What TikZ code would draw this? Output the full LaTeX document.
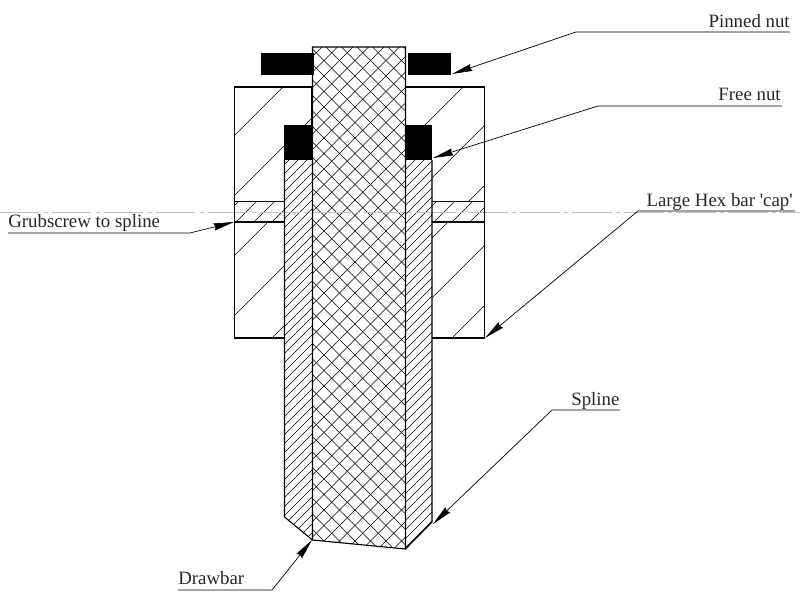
\documentclass[tikz,border=0pt]{standalone}
\usepackage{fontspec}
\setmainfont{Liberation Serif}
\usetikzlibrary{arrows.meta}

\tikzstyle{line} = [line width=0.8pt]
\tikzstyle{hatch} = [line width=0.45pt]
\tikzstyle{arw} = [-{Stealth[length=14.5pt,width=5pt,inset=1pt]}, line width=0.5pt]
\tikzstyle{lbl} = [inner sep=0pt, font=\fontsize{13.4}{13.4}\selectfont, text=black!85]
\tikzstyle{axis} = [line width=0.5pt, black!25, dash pattern=on 28pt off 3pt on 3pt off 3pt]

\begin{document}
\begin{tikzpicture}[x=0.025cm,y=-0.025cm]
\useasboundingbox (0,0) rectangle (800,600);

% hex bar hatch
\begin{scope}
\clip (234.5,87) -- (312,87) -- (312,125) -- (284.5,125) -- (284.5,201.5) -- (234.5,201.5) -- cycle
 (234.5,222) rectangle (284.5,338)
 (405,87) -- (484.5,87) -- (484.5,201.5) -- (432,201.5) -- (432,125) -- (405,125) -- cycle
 (432,222) rectangle (484.5,338);
\foreach \s in {370,430,...,850}
 \draw [hatch] (\s-80,80) -- (\s-400,400);
\end{scope}

% grubscrew hatch
\begin{scope}
\clip (234.5,201.5) rectangle (284.5,222) (432,201.5) rectangle (484.5,222);
\foreach \s in {440,458,...,720}
 \draw [hatch] (\s-190,190) -- (\s-230,230);
\end{scope}

% spline hatch
\begin{scope}
\clip (284.5,160) -- (312,160) -- (312,540) -- (284.5,517) -- cycle
 (405,160) -- (432,160) -- (432,522) -- (405,549) -- cycle;
\foreach \s in {440,449,...,1000}
 \draw [hatch] (\s-150,150) -- (\s-550,550);
\end{scope}

% drawbar cross hatch
\begin{scope}
\clip (312.5,47) -- (405.5,47) -- (405.5,549) -- (312.5,540) -- cycle;
\foreach \s in {338,353.5,...,980}
 \draw [hatch] (\s-40,40) -- (\s-560,560);
\foreach \s in {-248,-232.5,...,370}
 \draw [hatch] (\s+40,40) -- (\s+560,560);
\end{scope}

% centre line
\draw [axis] (0,212) -- (800,212);

% outlines
\draw [line] (312,125) -- (312,87) -- (234.5,87) -- (234.5,338) -- (284.5,338);
\draw [line] (405.5,87) -- (484.5,87) -- (484.5,338) -- (432,338);
\draw [line] (234.5,201.5) -- (284.5,201.5);
\draw [line] (234.5,222) -- (284.5,222);
\draw [line] (432,201.5) -- (484.5,201.5);
\draw [line] (432,222) -- (484.5,222);
\draw [line] (312.5,47) -- (405.5,47) -- (405.5,549) -- (312.5,540) -- cycle;
\draw [line] (312.5,540) -- (284.5,517) -- (284.5,160);
\draw [line] (405.5,549) -- (432,522) -- (432,160);

% nuts
\fill (261,53) rectangle (313.5,75);
\fill (408,53) rectangle (451,75);
\fill (284,125) rectangle (312,160);
\fill (405,125) rectangle (432,160);

% labels
\node [lbl,anchor=base east] (pinned) at (790,27) {Pinned nut};
\node [lbl,anchor=base east] (free) at (781,100) {Free nut};
\node [lbl,anchor=base east] (hex) at (793,206) {Large Hex bar \textquotesingle cap\textquotesingle};
\node [lbl,anchor=base west] (grub) at (8,227) {Grubscrew to spline};
\node [lbl,anchor=base west] (spline) at (571,405) {Spline};
\node [lbl,anchor=base west] (drawbar) at (178,584) {Drawbar};

% leaders
\coordinate (pinnedEnd) at (790,32);
\coordinate (pinnedKnee) at (576,32);
\coordinate (pinnedTip) at (452,74);
\coordinate (freeEnd) at (782,106);
\coordinate (freeKnee) at (598,106);
\coordinate (freeTip) at (433,158);
\coordinate (hexEnd) at (795,211);
\coordinate (hexKnee) at (638,211);
\coordinate (hexTip) at (485,338);
\coordinate (grubEnd) at (190,233);
\coordinate (grubKnee) at (8,233);
\coordinate (grubTip) at (234,222);
\coordinate (splineEnd) at (620,410);
\coordinate (splineKnee) at (552,410);
\coordinate (splineTip) at (433,524);
\coordinate (drawbarEnd) at (178,590);
\coordinate (drawbarKnee) at (272,590);
\coordinate (drawbarTip) at (312,540);
\draw [arw] (pinnedEnd) -- (pinnedKnee) -- (pinnedTip);
\draw [arw] (freeEnd) -- (freeKnee) -- (freeTip);
\draw [arw] (hexEnd) -- (hexKnee) -- (hexTip);
\draw [arw] (grubKnee) -- (grubEnd) -- (grubTip);
\draw [arw] (splineEnd) -- (splineKnee) -- (splineTip);
\draw [arw] (drawbarEnd) -- (drawbarKnee) -- (drawbarTip);

\end{tikzpicture}
\end{document}
